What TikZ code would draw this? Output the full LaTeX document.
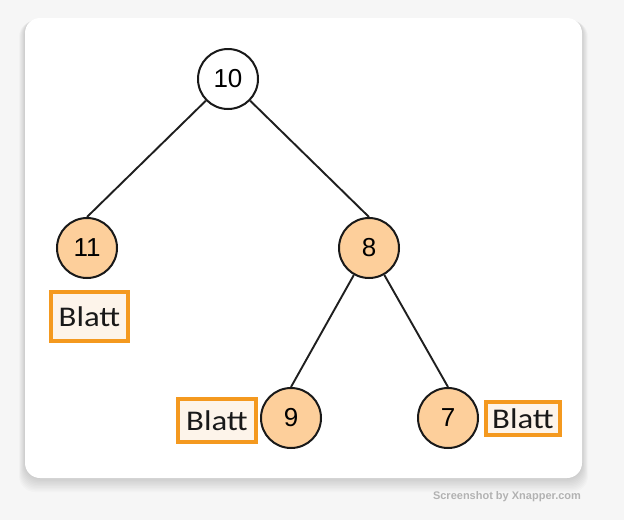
\documentclass[tikz,border=0pt]{standalone}
\usepackage{fontspec}
\setmainfont{Liberation Sans}
\newfontfamily\blattfont[FakeStretch=1.15]{Carlito}
\usepackage{xcolor}
\usetikzlibrary{positioning}
\definecolor{knotenfarbe}{HTML}{FDCF9B}
\definecolor{blattrand}{HTML}{F4991F}
\definecolor{blattfuellung}{HTML}{FDF4EA}
\definecolor{hintergrund}{HTML}{F6F6F6}
\tikzset{
    knoten/.style={
        circle,
        draw=black!90,
        line width=2pt,
        minimum size=60pt,
        inner sep=0pt,
        font=\fontsize{26}{30}\selectfont
    },
    wurzel/.style={knoten, fill=white},
    innen/.style={knoten, fill=knotenfarbe},
    blatt/.style={
        rectangle,
        draw=blattrand,
        line width=3.6pt,
        fill=blattfuellung,
        inner sep=0pt,
        text=black!90,
        font=\blattfont\fontsize{28.5}{32}\selectfont
    },
    kante/.style={line width=1.9pt, draw=black!88}
}

\begin{document}
\begin{tikzpicture}[x=1pt,y=-1pt]

    \useasboundingbox (0,0) rectangle (624,520);
    \fill[hintergrund] (0,0) rectangle (624,520);

    % Karte mit Schatten
    \foreach \s in {1,...,10}
        \fill[black, opacity=0.017, rounded corners=16pt]
            (25-\s*0.6,18+\s*0.3) rectangle (582+\s*0.6,478+\s*1.4);
    \fill[white, rounded corners=15pt] (25,18) rectangle (582,478);

    \node[wurzel] (n10) at (228,79) {10};
    \node[innen] (n11) at (87,248) {11};
    \node[innen] (n8) at (369,248) {8};
    \node[innen] (n9) at (291,418) {9};
    \node[innen] (n7) at (448,418) {7};

    \node[blatt, minimum width=77pt, minimum height=49pt] (b11) at (89.5,316.5) {Blatt};
    \node[blatt, minimum width=78pt, minimum height=43pt] (b9) at (217,420.5) {Blatt};
    \node[blatt, minimum width=74pt, minimum height=33pt] (b7) at (523,418.5) {Blatt};

    \draw[kante] (n10) -- (n11.north);
    \draw[kante] (n10) -- (n8.north);
    \draw[kante] (n8) -- (n9.north);
    \draw[kante] (n8) -- (n7.north);

    \node[text=black!30, font=\bfseries\fontsize{11}{13}\selectfont] (wasserzeichen)
        at (507,497) {Screenshot by Xnapper.com};

\end{tikzpicture}
\end{document}
